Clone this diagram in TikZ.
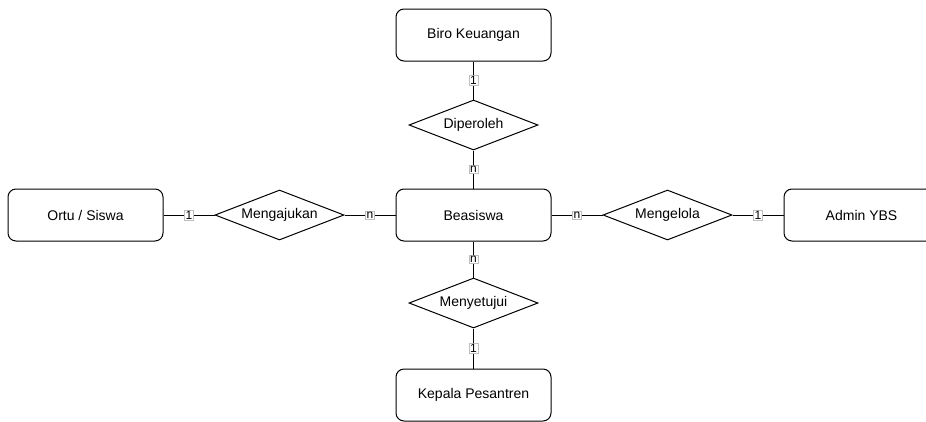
\documentclass[tikz,border=0pt]{standalone}
\usepackage{fontspec}
\setmainfont{Liberation Sans}
\usetikzlibrary{shapes.geometric}
\newcommand{\kcl}{\fontsize{12}{14}\selectfont}

\begin{document}
\begin{tikzpicture}[x=1pt, y=1pt, font=\fontsize{14}{16}\selectfont, line width=1pt,
    entitas/.style={draw, rectangle, rounded corners=8pt, minimum width=155pt, minimum height=52pt},
    relasi/.style={draw, diamond, aspect=2.6, inner sep=0pt, minimum width=129pt, minimum height=50pt},
    kard/.style={fill=white, draw=black!25, line width=0.5pt, inner sep=1pt, font=\kcl}]
    \useasboundingbox (0,0) rectangle (926,-421);
    \node[entitas] (B) at (473.5,-215) {Beasiswa};
    % horizontal
    \node[relasi, left of = B, node distance = 194pt] (R1) {Mengajukan};
    \node[entitas, left of = R1, node distance = 194pt] (E1) {Ortu / Siswa};
    \node[relasi, right of = B, node distance = 194pt] (R2) {Mengelola};
    \node[entitas, right of = R2, node distance = 194pt] (E2) {Admin YBS};
    % vertikal
    \node[relasi, above of = B, node distance = 90pt] (R3) {Diperoleh};
    \node[entitas, above of = R3, node distance = 90pt] (E3) {Biro Keuangan};
    \node[relasi, below of = B, node distance = 88pt] (R4) {Menyetujui};
    \node[entitas, below of = R4, node distance = 92pt] (E4) {Kepala Pesantren};
    \foreach \i\j\k in {E1/R1/1, R1/B/n, B/R2/n, R2/E2/1, E3/R3/1, R3/B/n, B/R4/n, R4/E4/1} {
      \draw (\i) -- node[kard] {\k} (\j);
    }
  \end{tikzpicture}
\end{document}
